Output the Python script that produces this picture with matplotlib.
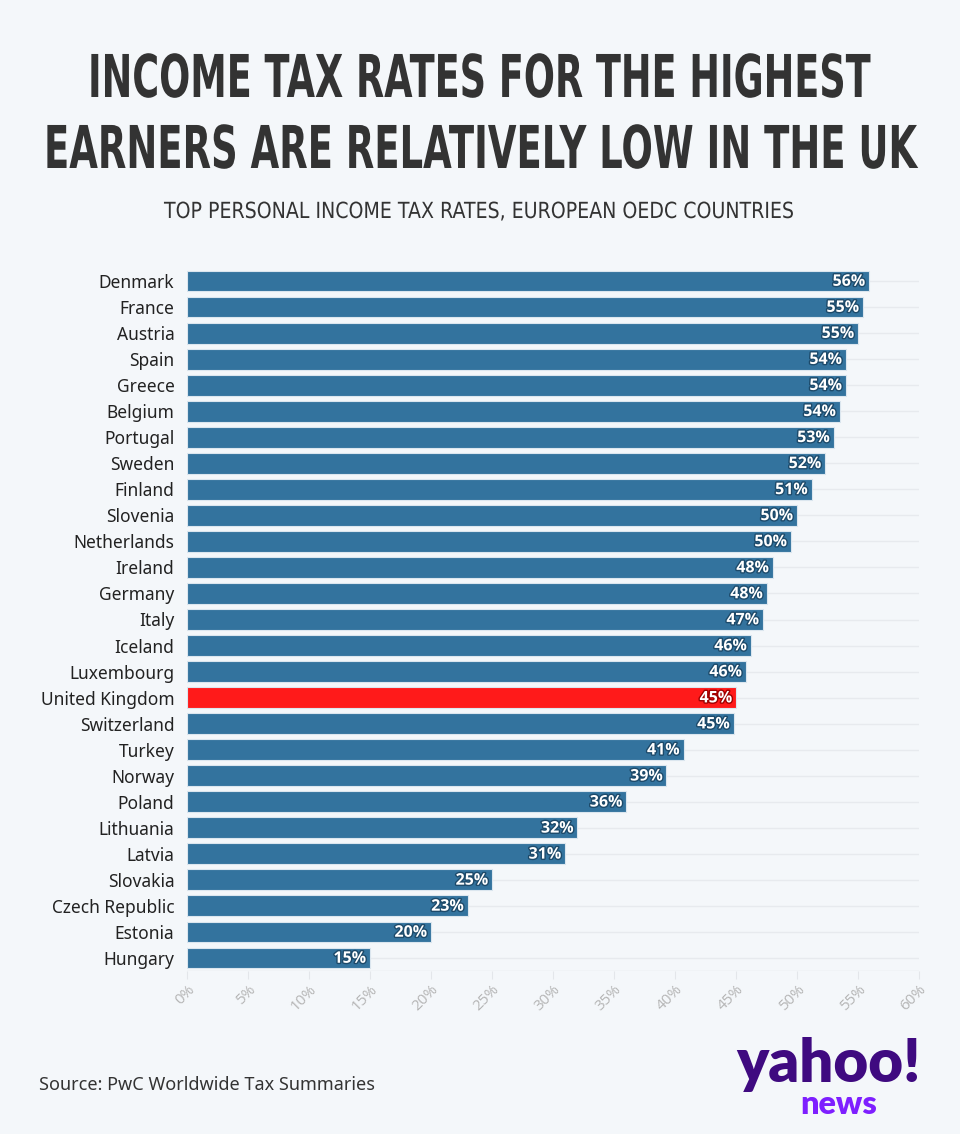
import matplotlib
matplotlib.use("Agg")
import matplotlib.pyplot as plt
import matplotlib.patheffects as pe
from matplotlib.transforms import Affine2D
import numpy as np

countries = ["Denmark", "France", "Austria", "Spain", "Greece", "Belgium", "Portugal",
             "Sweden", "Finland", "Slovenia", "Netherlands", "Ireland", "Germany", "Italy",
             "Iceland", "Luxembourg", "United Kingdom", "Switzerland", "Turkey", "Norway",
             "Poland", "Lithuania", "Latvia", "Slovakia", "Czech Republic", "Estonia", "Hungary"]
rates = [55.9, 55.4, 55.0, 54.0, 54.0, 53.5, 53.0, 52.3, 51.2, 50.0, 49.5, 48.0, 47.5, 47.2,
         46.2, 45.8, 45.0, 44.8, 40.7, 39.3, 36.0, 32.0, 31.0, 25.0, 23.0, 20.0, 15.0]
highlight = "United Kingdom"
xticks = list(range(0, 61, 5))

BG = "#f4f7fa"
BLUE = "#33739e"
RED = "#ff1a1a"


class HScale(pe.AbstractPathEffect):
    """Horizontally condense a text around a fixed display x."""
    def __init__(self, sx, cx):
        super().__init__()
        self.sx, self.cx = sx, cx

    def draw_path(self, renderer, gc, tpath, affine, rgbFace=None):
        aff = affine + Affine2D().translate(-self.cx, 0).scale(self.sx, 1).translate(self.cx, 0)
        renderer.draw_path(gc, tpath, aff, rgbFace)


fig = plt.figure(figsize=(9.6, 11.34), dpi=100, facecolor=BG)
ax = fig.add_axes([187/960, 1-971/1134, (919-187)/960, (971-268)/1134], facecolor=BG)

y = np.arange(len(countries))
colors = [RED if c == highlight else BLUE for c in countries]
ax.barh(y, rates, height=0.8, color=colors, edgecolor="#dbe6ef", linewidth=0.8, zorder=3)
for yi in y:
    ax.axhline(yi, color="#e7eaee", lw=1, zorder=1)
ax.axhline(len(countries) - 0.5, color="#e3e6ea", lw=1, zorder=1)

for yi, v in zip(y, rates):
    t = ax.text(v - 0.3, yi + 0.03, f"{round(v):.0f}%", ha="right", va="center", color="white",
                fontsize=11.5, fontweight="bold", family="Open Sans", zorder=4)
    t.set_path_effects([pe.withStroke(linewidth=2, foreground="#1d4a6a" if countries[yi] != highlight else "#a00000")])

ax.set_ylim(len(countries) - 0.5, -0.5)
ax.set_xlim(0, 60)
ax.set_yticks(y)
ax.set_yticklabels(countries, family="Noto Sans", fontsize=12.5, color="#222222")
ax.tick_params(axis="y", length=0, pad=9)
ax.set_xticks(xticks)
ax.set_xticklabels([f"{t}%" for t in xticks], rotation=45, ha="right", rotation_mode="anchor",
                   color="#b5b5b5", fontsize=11, family="Open Sans")
ax.tick_params(axis="x", length=6, color="#e3e6ea", pad=2)
for s in ax.spines.values():
    s.set_visible(False)

renderer = fig.canvas.get_renderer()
H = 1134


def condensed(xc, ybase, s, target_w, **kw):
    t = fig.text(xc, 1 - ybase / H, s, ha="center", va="baseline", **kw)
    w = t.get_window_extent(renderer).width
    t.set_path_effects([HScale(target_w / w, xc * fig.bbox.width)])
    return t


def fitted(xc, ybase, s, target_w, **kw):
    t = fig.text(xc, 1 - ybase / H, s, ha="center", va="baseline", **kw)
    w = t.get_window_extent(renderer).width
    t.set_fontsize(t.get_fontsize() * target_w / w)
    return t


condensed(479/960, 97, "INCOME TAX RATES FOR THE HIGHEST", 782, fontsize=42.5, fontweight="heavy",
          family="DejaVu Sans", color="#333333")
condensed(480/960, 168, "EARNERS ARE RELATIVELY LOW IN THE UK", 872, fontsize=42.5, fontweight="heavy",
          family="DejaVu Sans", color="#333333")
condensed(479/960, 218, "TOP PERSONAL INCOME TAX RATES, EUROPEAN OEDC COUNTRIES", 630, fontsize=16,
          family="DejaVu Sans", color="#333333")
fig.text(39/960, 1 - 1090/H, "Source: PwC Worldwide Tax Summaries", ha="left", va="baseline",
         fontsize=13, family="Noto Sans", color="#333333")
fitted(828/960, 1082, "yahoo!", 185, fontsize=44,
       fontweight="heavy", family="Lato", color="#3f0a80")
fitted(839/960, 1114, "news", 77, fontsize=20,
       fontweight="heavy", family="Lato", color="#7e1fff")

fig.savefig("out.png", dpi=100, facecolor=BG)
